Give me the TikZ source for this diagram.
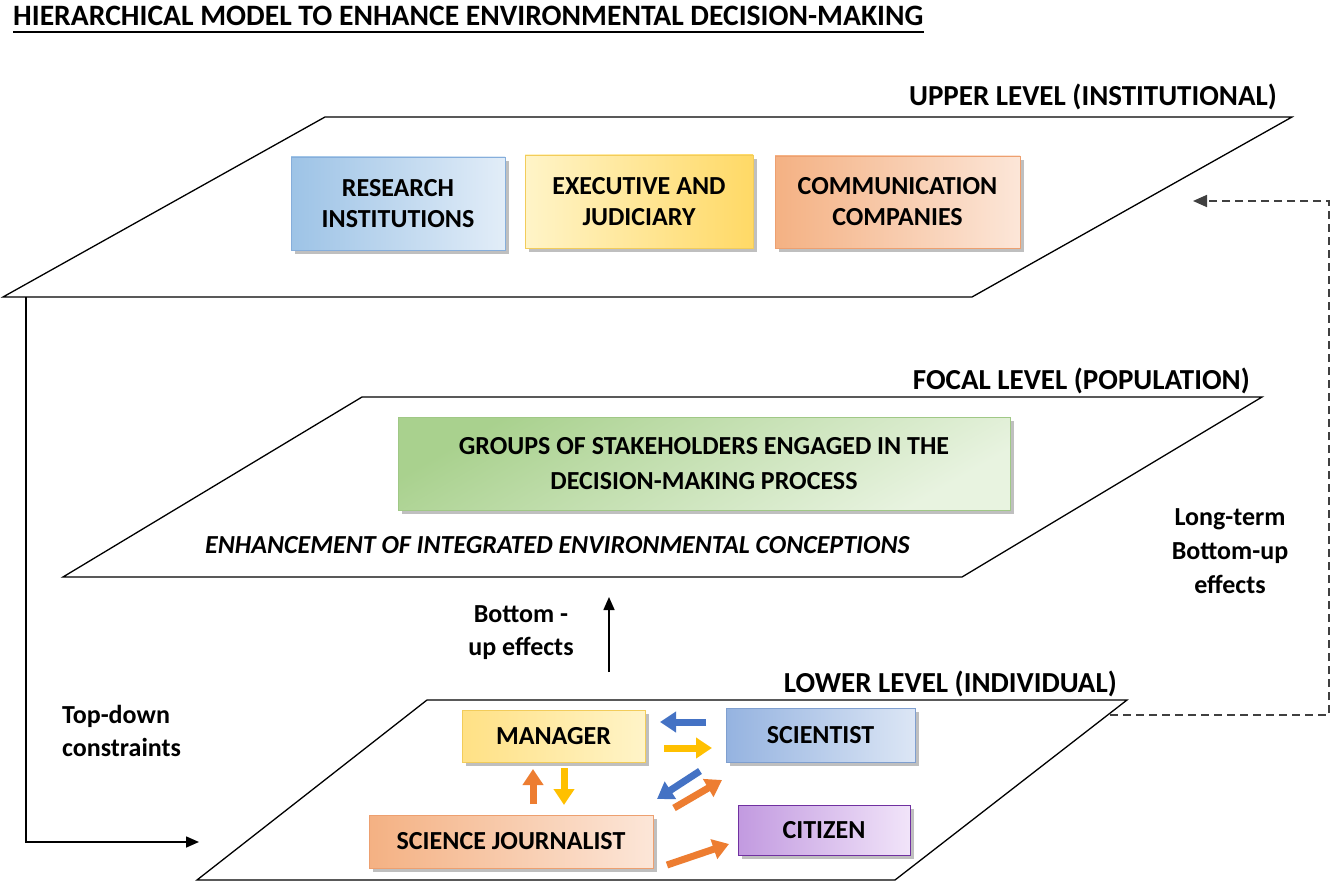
\documentclass[tikz,border=0pt]{standalone}
\usepackage{fontspec}
\setmainfont{Carlito}
\usetikzlibrary{arrows.meta,shadows}
\definecolor{blueA}{HTML}{9DC3E6}
\definecolor{blueB}{HTML}{E2EDF8}
\definecolor{blueD}{HTML}{86AEDB}
\definecolor{yelA}{HTML}{FFD966}
\definecolor{yelB}{HTML}{FFF4C8}
\definecolor{yelD}{HTML}{F2CC5A}
\definecolor{orA}{HTML}{F4B183}
\definecolor{orB}{HTML}{FCE6D8}
\definecolor{orD}{HTML}{EDA070}
\definecolor{grA}{HTML}{A9D18E}
\definecolor{grB}{HTML}{E8F3E0}
\definecolor{grD}{HTML}{A0C886}
\definecolor{sciA}{HTML}{95B3E0}
\definecolor{sciB}{HTML}{DCE6F5}
\definecolor{sciD}{HTML}{7F9FCF}
\definecolor{puA}{HTML}{C29AE0}
\definecolor{puB}{HTML}{F1E4F9}
\definecolor{puD}{HTML}{7030A0}
\definecolor{arBlue}{HTML}{4472C4}
\definecolor{arYel}{HTML}{FFC000}
\definecolor{arOr}{HTML}{ED7D31}
\tikzset{
  plane/.style={draw=black, line width=1.3pt, line join=miter},
  lvl/.style={font=\fontsize{29}{34}\selectfont\bfseries, inner sep=0pt},
  box/.style={draw, line width=0.8pt, align=center, inner sep=0pt,
    font=\fontsize{26}{31}\selectfont\bfseries,
    drop shadow={shadow xshift=4pt, shadow yshift=-4pt, fill=black!55, opacity=0.45}},
  lbl/.style={font=\fontsize{26}{33}\selectfont\bfseries, inner sep=0pt},
  barrow/.style={line width=7pt, -{Triangle[length=16pt,width=20pt]}},
  conn/.style={line width=1.6pt, -{Triangle[length=13pt,width=11pt]}},
  dconn/.style={line width=1.7pt, draw=black!75, dash pattern=on 8pt off 5pt, -{Triangle[length=14pt,width=12pt]}}
}
\begin{document}
\begin{tikzpicture}[x=1pt,y=-1pt]
\useasboundingbox (0,0) rectangle (1333,882);
\fill[white] (0,0) rectangle (1333,882);

% title
\node[lvl, font=\fontsize{29.6}{34}\selectfont\bfseries, anchor=base west] (title) at (13,26) {HIERARCHICAL MODEL TO ENHANCE ENVIRONMENTAL DECISION-MAKING};
\draw[line width=1.8pt] ([yshift=-6pt]title.base west) -- ([yshift=-6pt]title.base east);

% planes
\coordinate (u1) at (325,117); \coordinate (u2) at (1292,117);
\coordinate (u3) at (972,297); \coordinate (u4) at (3,297);
\draw[plane] (u1) -- (u2) -- (u3) -- (u4) -- cycle;
\coordinate (f1) at (362,397); \coordinate (f2) at (1262,397);
\coordinate (f3) at (962,577); \coordinate (f4) at (63,577);
\draw[plane] (f1) -- (f2) -- (f3) -- (f4) -- cycle;
\coordinate (l1) at (427,700); \coordinate (l2) at (1127,700);
\coordinate (l3) at (895,880); \coordinate (l4) at (197,880);
\draw[plane] (l1) -- (l2) -- (l3) -- (l4) -- cycle;

% level labels
\node[lvl, anchor=base east] (ulab) at (1277,106) {UPPER LEVEL (INSTITUTIONAL)};
\node[lvl, anchor=base east] (flab) at (1250,389) {FOCAL LEVEL (POPULATION)};
\node[lvl, anchor=base east] (llab) at (1117,692) {LOWER LEVEL (INDIVIDUAL)};

% upper boxes
\node[box, draw=blueD, left color=blueA, right color=blueB, minimum width=214pt, minimum height=93pt] (res) at (398,203.5) {RESEARCH\\INSTITUTIONS};
\node[box, draw=yelD, left color=yelB, right color=yelA, minimum width=228pt, minimum height=93pt] (exe) at (639,201.5) {EXECUTIVE AND\\JUDICIARY};
\node[box, draw=orD, left color=orA, right color=orB, minimum width=245pt, minimum height=92pt] (com) at (897.5,202) {COMMUNICATION\\COMPANIES};

% focal box
\node[box, draw=grD, top color=grA, bottom color=grB, shading angle=30, minimum width=612pt, minimum height=93pt, font=\fontsize{26}{35}\selectfont\bfseries] (grp) at (704,463.5) {GROUPS OF STAKEHOLDERS ENGAGED IN THE\\DECISION-MAKING PROCESS};
\node[lbl, font=\fontsize{26}{31}\selectfont\bfseries\itshape, anchor=base west] (enh) at (205,553) {ENHANCEMENT OF INTEGRATED ENVIRONMENTAL CONCEPTIONS};

% lower boxes
\node[box, draw=yelD, left color=yelA!80, right color=yelB, minimum width=183pt, minimum height=52pt] (man) at (553.5,736) {MANAGER};
\node[box, draw=sciD, left color=sciA, right color=sciB, minimum width=189pt, minimum height=54pt] (sci) at (820.5,735) {SCIENTIST};
\node[box, draw=orD, left color=orA, right color=orB, minimum width=284pt, minimum height=53pt] (jou) at (511,841.5) {SCIENCE JOURNALIST};
\node[box, draw=puD, left color=puA, right color=puB, minimum width=172pt, minimum height=50pt] (cit) at (824,830) {CITIZEN};

% block arrows
\coordinate (a1s) at (706,722); \coordinate (a1e) at (660,722);
\coordinate (a2s) at (664,748); \coordinate (a2e) at (712,748);
\coordinate (a3s) at (533,804); \coordinate (a3e) at (533,769);
\coordinate (a4s) at (564,768); \coordinate (a4e) at (564,805);
\coordinate (a5s) at (700,771); \coordinate (a5e) at (657,799);
\coordinate (a6s) at (674,808); \coordinate (a6e) at (722,780);
\coordinate (a7s) at (667,865); \coordinate (a7e) at (729,844);
\draw[barrow, arBlue] (a1s) -- (a1e);
\draw[barrow, arYel] (a2s) -- (a2e);
\draw[barrow, arOr] (a3s) -- (a3e);
\draw[barrow, arYel] (a4s) -- (a4e);
\draw[barrow, arBlue] (a5s) -- (a5e);
\draw[barrow, arOr] (a6s) -- (a6e);
\draw[barrow, arOr] (a7s) -- (a7e);

% top-down constraints
\coordinate (td0) at (26,297);
\coordinate (td1) at (26,842);
\coordinate (td2) at (199,842);
\draw[conn] (td0) -- (td1) -- (td2);
\node[lbl, align=left, anchor=west] (tdl) at (62,731) {Top-down\\constraints};

% bottom-up effects
\coordinate (bu0) at (609,672);
\coordinate (bu1) at (609,597);
\draw[conn] (bu0) -- (bu1);
\node[lbl, align=center] (bul) at (521,633) {Bottom -\\up effects};

% long-term bottom-up
\coordinate (lt0) at (1110,715);
\coordinate (lt1) at (1329,715);
\coordinate (lt2) at (1329,201);
\coordinate (lt3) at (1193,201);
\draw[dconn] (lt0) -- (lt1) -- (lt2) -- (lt3);
\node[lbl, align=center, font=\fontsize{26}{34}\selectfont\bfseries] (ltl) at (1230,551) {Long-term\\Bottom-up\\effects};
\end{tikzpicture}
\end{document}
